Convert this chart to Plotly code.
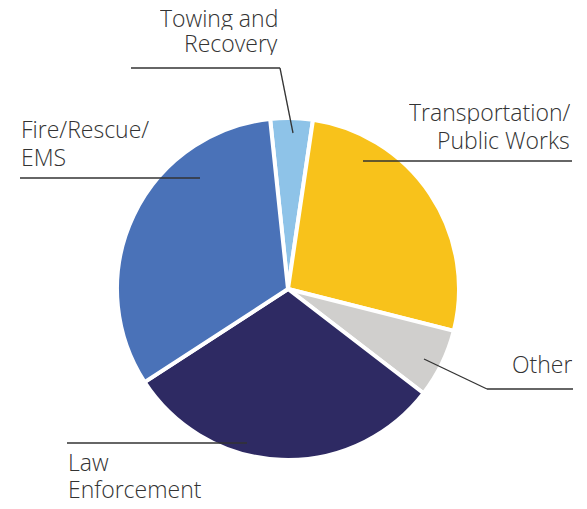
import plotly.graph_objects as go

labels = ["Towing and Recovery", "Transportation/Public Works", "Other", "Law Enforcement", "Fire/Rescue/EMS"]
values = [4.0, 26.6, 6.5, 30.4, 32.5]
colors = ["#8EC3E8", "#F8C21B", "#D0CFCD", "#2E2A63", "#4A72B8"]

W, H = 587, 509
cx, cy, r = 288, 289, 171

def px(x):
    return x / W

def py(y):
    return 1 - y / H

fig = go.Figure(go.Pie(
    labels=labels, values=values, sort=False, direction="clockwise", rotation=-6,
    marker=dict(colors=colors, line=dict(color="white", width=4)),
    textinfo="none", hoverinfo="label+percent", showlegend=False,
    domain=dict(x=[px(cx - r), px(cx + r)], y=[py(cy + r), py(cy - r)]),
))

font = dict(family="'Open Sans', sans-serif", size=23, color="#333333", weight=300)
# (text line, x, y of cap centre, align)
anns = [
    ("Towing and", 279, 17, "right"),
    ("Recovery", 279, 43, "right"),
    ("Transportation/", 571, 112, "right"),
    ("Public Works", 571, 140, "right"),
    ("Fire/Rescue/", 20, 128, "left"),
    ("EMS", 20, 156, "left"),
    ("Other", 573, 363, "right"),
    ("Law", 67, 461, "left"),
    ("Enforcement", 67, 488, "left"),
]
for text, x, y, al in anns:
    fig.add_annotation(x=px(x), y=py(y), xref="paper", yref="paper", text=text,
                       showarrow=False, xanchor=al, yanchor="middle", align=al, font=font,
                       borderpad=0, height=25, valign="middle")

lines = [
    [(131, 68), (280, 68), (293, 133)],
    [(363, 161), (572, 161)],
    [(20, 178), (200, 178)],
    [(424, 359), (487, 389), (573, 389)],
    [(67, 443), (247, 443)],
]
for pts in lines:
    for (x0, y0), (x1, y1) in zip(pts[:-1], pts[1:]):
        fig.add_shape(type="line", xref="paper", yref="paper",
                      x0=px(x0), y0=py(y0), x1=px(x1), y1=py(y1),
                      line=dict(color="#333333", width=1.3))

fig.update_layout(width=W, height=H, margin=dict(l=0, r=0, t=0, b=0),
                  paper_bgcolor="white", plot_bgcolor="white")
fig.write_html("out.html", config={"displayModeBar": False},
               post_script="document.body.style.margin='0';")
